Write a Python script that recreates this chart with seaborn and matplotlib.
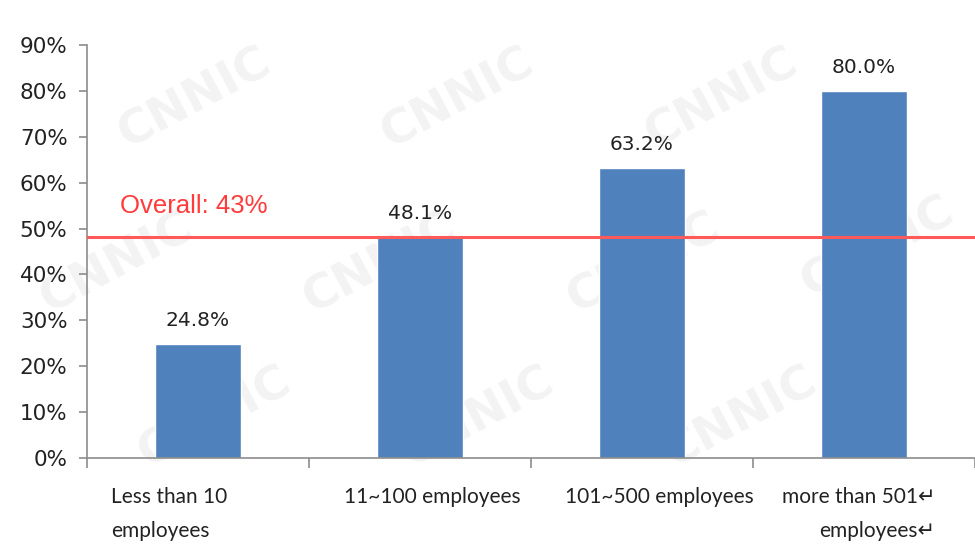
import matplotlib
matplotlib.use("Agg")
import matplotlib.pyplot as plt
import seaborn as sns

categories = ["Less than 10 employees", "11~100 employees", "101~500 employees", "more than 501 employees"]
values = [24.8, 48.1, 63.2, 80.0]
xlabels = ["Less than 10\nemployees", "11~100 employees", "101~500 employees", "more than 501\u21b5\nemployees\u21b5"]
overall_line = 48.2
overall_text = "Overall: 43%"
yticks = list(range(0, 100, 10))

sns.set_style("white")
plt.rcParams["font.family"] = ["DejaVu Sans"]

fig = plt.figure(figsize=(9.75, 5.49), dpi=100)
ax = fig.add_axes([0.0892, 0.1658, 0.9108, 0.7523])
ax.patch.set_alpha(0)

# faint watermark in the background, kept inside the figure
marks = [(0.2, 0.82), (0.47, 0.82), (0.74, 0.82),
         (0.12, 0.52), (0.39, 0.52), (0.66, 0.52), (0.9, 0.55),
         (0.22, 0.24), (0.49, 0.24), (0.76, 0.24)]
for xx, yy in marks:
    fig.text(xx, yy, "CNNIC", fontsize=34, fontweight="bold", color="#f3f3f3",
             rotation=28, ha="center", va="center", zorder=-5)

sns.barplot(x=categories, y=values, color="#4f81bd", saturation=1, width=0.39, ax=ax, zorder=2)

ax.bar_label(ax.containers[0], labels=[f"{v:.1f}%" for v in values], padding=10,
             fontsize=14.5, color="#222222")

ax.axhline(overall_line, color="#ff5a5a", lw=2.2, zorder=3)
ax.text(-0.35, overall_line + 5.2, overall_text, color="#ff3b3b", fontsize=18.5,
        family=["Liberation Sans"], va="baseline", ha="left")

ax.set_xlim(-0.5, len(categories) - 0.5)
ax.set_ylim(0, 90)
ax.set_yticks(yticks)
ax.set_yticklabels([f"{t}%" for t in yticks], fontsize=15.5, color="#222222")
ax.set_xticks([i - 0.5 for i in range(len(categories) + 1)])
ax.set_xticklabels([])
ax.tick_params(axis="y", length=6, width=1.2, color="#8c8c8c", left=True, pad=8)
ax.tick_params(axis="x", length=7, width=1.2, color="#8c8c8c", bottom=True)
ax.set_xlabel("")
ax.set_ylabel("")

for s in ["top", "right"]:
    ax.spines[s].set_visible(False)
for s in ["left", "bottom"]:
    ax.spines[s].set_color("#8c8c8c")
    ax.spines[s].set_linewidth(1.2)

# category labels under the axis
offsets = [-0.39, 0.054, 0.077, 0.32]
aligns = ["left", "center", "center", "right"]
for i, lab in enumerate(xlabels):
    ax.text(i + offsets[i], -0.07, lab, transform=ax.get_xaxis_transform(),
            ha=aligns[i], va="top", multialignment=aligns[i], fontsize=15,
            family=["Lato", "DejaVu Sans"], linespacing=1.9, color="#222222")

fig.savefig("out.png", dpi=100)
